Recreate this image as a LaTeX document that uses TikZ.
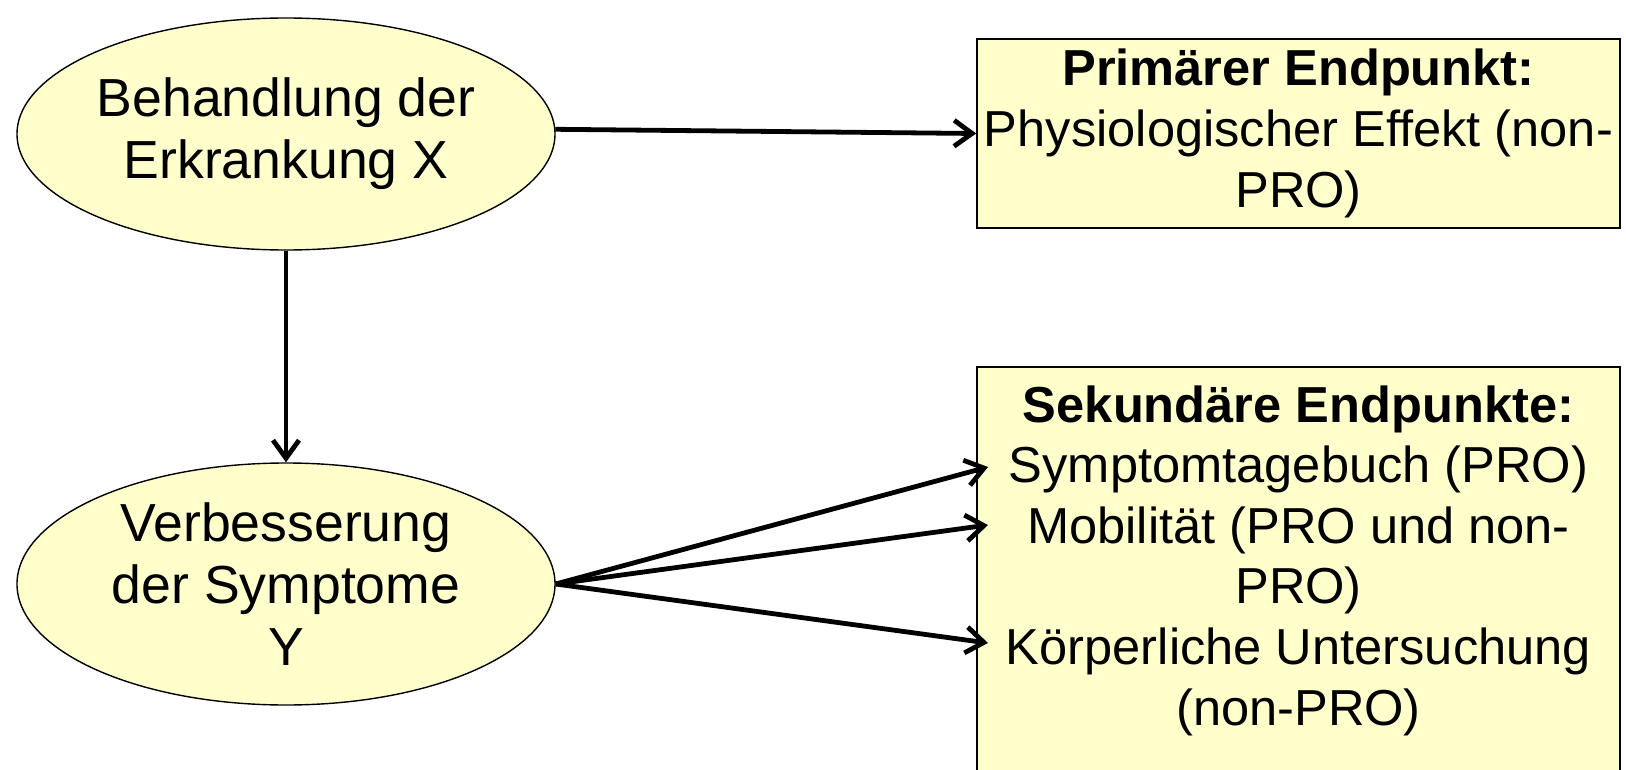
\documentclass[tikz,border=0pt]{standalone}
\usepackage{fontspec}
\setmainfont{Liberation Sans}
\usetikzlibrary{shapes.geometric,arrows.meta}
\definecolor{boxfill}{HTML}{FFFFCC}
\begin{document}
\begin{tikzpicture}[x=0.5pt,y=-0.5pt,
  txt/.style={font=\fontsize{25.3pt}{30.3pt}\selectfont, align=center},
  ovaltxt/.style={font=\fontsize{26.8pt}{31pt}\selectfont, align=center},
  oval/.style={ellipse, draw=black, line width=0.7pt, fill=boxfill, inner sep=0pt, ovaltxt},
  endbox/.style={rectangle, draw=black, line width=0.8pt, fill=boxfill, inner sep=0pt},
  conn/.style={line width=2.4pt, -{Straight Barb[length=9pt,width=13pt,line width=2.4pt]}}]
\useasboundingbox (0,0) rectangle (1626,770);
\clip (0,0) rectangle (1626,770);
\node[oval, minimum width=269pt, minimum height=116pt] (e1) at (286,134) {Behandlung der\\Erkrankung X};
\node[oval, minimum width=269pt, minimum height=121pt] (e2) at (286,584) {Verbesserung\\der Symptome\\Y};
\node[endbox, txt, minimum width=321.5pt, minimum height=94.5pt] (p1) at (1298.5,133.5) {\textbf{Primärer Endpunkt:}\\Physiologischer Effekt (non-\\PRO)};
\node[endbox, minimum width=321.5pt, minimum height=230pt, anchor=north] (s) at (1298.5,366) {};
\node[txt, anchor=north, inner sep=0pt] (st) at (1298.5,385) {\textbf{Sekundäre Endpunkte:}\\Symptomtagebuch (PRO)\\Mobilität (PRO und non-\\PRO)\\Körperliche Untersuchung\\(non-PRO)};
\coordinate (t1) at (988,467);
\coordinate (t2) at (988,525);
\coordinate (t3) at (988,643);
\draw[conn] (e1.1) -- (p1.west);
\draw[conn] (e1.south) -- (e2.north);
\draw[conn] (e2.east) -- (t1);
\draw[conn] (e2.east) -- (t2);
\draw[conn] (e2.east) -- (t3);
\end{tikzpicture}
\end{document}
